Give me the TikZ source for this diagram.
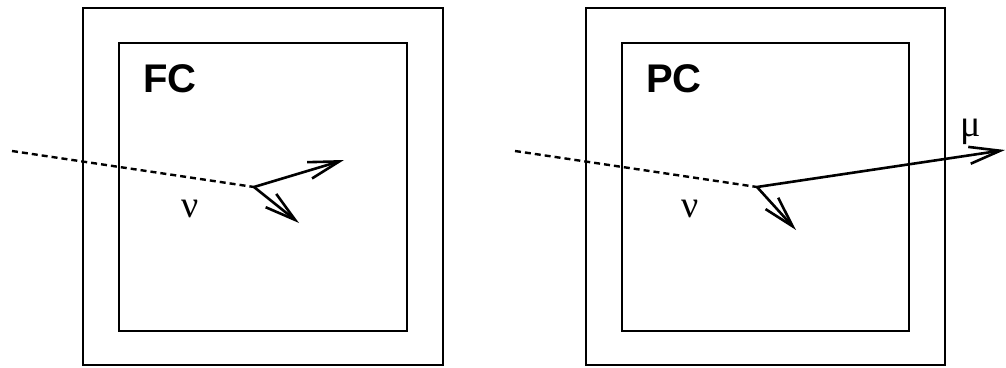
\documentclass[tikz,border=0pt]{standalone}
\usepackage{fontspec}
\setmainfont{Liberation Serif}
\newfontfamily\labelsans{Liberation Sans}
\usetikzlibrary{arrows.meta}
\begin{document}
\begin{tikzpicture}[x=1pt,y=-1pt,
  box/.style={draw,line width=2.2pt,inner sep=0pt,rectangle},
  title/.style={font=\labelsans\fontsize{40}{40}\selectfont\bfseries,inner sep=0pt,anchor=base west},
  greek/.style={font=\fontsize{38}{38}\selectfont,inner sep=0pt,anchor=base},
  track/.style={line width=2.6pt,-{Straight Barb[length=31pt,width=17pt,line width=2.6pt]}},
  nu/.style={line width=2.4pt,dash pattern=on 6pt off 4pt}]
\useasboundingbox (0,0) rectangle (1006,367);
% left panel
\node[box,minimum width=360pt,minimum height=357pt] (outerL) at (263,186.5) {};
\node[box,minimum width=288pt,minimum height=288pt] (innerL) at (263,187) {};
\node[title] (fc) at (143,92) {FC};
\coordinate (startL) at (12,151);
\coordinate (vtxL) at (254,187);
\coordinate (endL1) at (344,160);
\coordinate (endL2) at (299,223);
\draw[nu] (startL) -- (vtxL);
\draw[track] (vtxL) -- (endL1);
\draw[track] (vtxL) -- (endL2);
\node[greek] (nuL) at (190,217) {ν};
% right panel
\node[box,minimum width=359pt,minimum height=357pt] (outerR) at (765.5,186.5) {};
\node[box,minimum width=287pt,minimum height=288pt] (innerR) at (765.5,187) {};
\node[title] (pc) at (646,92) {PC};
\coordinate (startR) at (515,151);
\coordinate (vtxR) at (757,187);
\coordinate (endR1) at (1005,150);
\coordinate (endR2) at (796,230);
\draw[nu] (startR) -- (vtxR);
\draw[track] (vtxR) -- (endR1);
\draw[track] (vtxR) -- (endR2);
\node[greek] (nuR) at (690,217) {ν};
\node[greek] (mu) at (971,136) {μ};
\end{tikzpicture}
\end{document}
